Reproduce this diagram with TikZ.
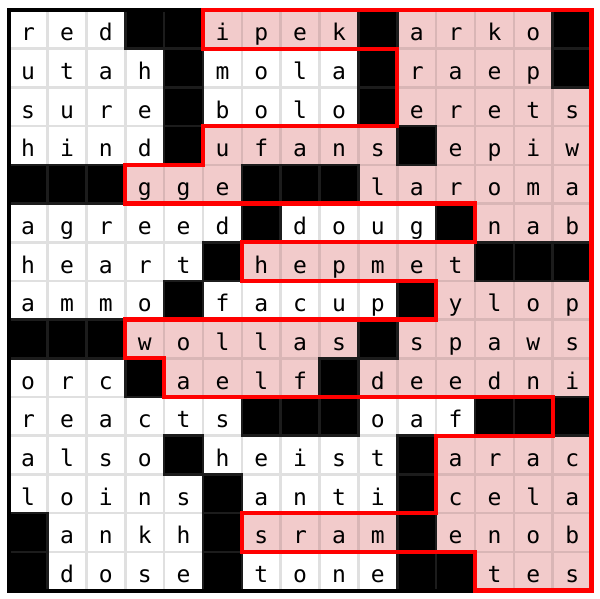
\documentclass[tikz,border=0pt]{standalone}
\usepackage{fontspec}
\newfontfamily\gridfont{DejaVu Sans Mono}
\definecolor{pinkc}{HTML}{F2CBCB}
\definecolor{pinkline}{HTML}{D9B6B6}
\definecolor{greyline}{HTML}{E0E0E0}
\definecolor{blackline}{HTML}{1C1C1C}
\definecolor{redline}{HTML}{FF0000}
\tikzset{
  whitecell/.style={fill=white,draw=greyline,line width=2.6pt},
  pinkcell/.style={fill=pinkc,draw=pinkline,line width=2.6pt},
  blackcell/.style={fill=black,draw=blackline,line width=2.6pt},
  letter/.style={inner sep=0pt,anchor=base,yshift=-11.5pt,text=black,
    font=\gridfont\fontsize{23}{27}\selectfont},
  frameline/.style={draw=black,line width=4pt},
  regionline/.style={draw=redline,line width=4.3pt,line join=miter}
}
\begin{document}
\begin{tikzpicture}[x=38.86pt,y=-38.7pt]
\useasboundingbox[fill=white] (-0.2239,-0.2584) rectangle (15.2161,15.1938);
\foreach \pass in {0,1,2}{
\foreach \r/\types in {
 0/{0,0,0,2,2,1,1,1,1,2,1,1,1,1,2},
 1/{0,0,0,0,2,0,0,0,0,2,1,1,1,1,2},
 2/{0,0,0,0,2,0,0,0,0,2,1,1,1,1,1},
 3/{0,0,0,0,2,1,1,1,1,1,2,1,1,1,1},
 4/{2,2,2,1,1,1,2,2,2,1,1,1,1,1,1},
 5/{0,0,0,0,0,0,2,0,0,0,0,2,1,1,1},
 6/{0,0,0,0,0,2,1,1,1,1,1,1,2,2,2},
 7/{0,0,0,0,2,0,0,0,0,0,2,1,1,1,1},
 8/{2,2,2,1,1,1,1,1,1,2,1,1,1,1,1},
 9/{0,0,0,2,1,1,1,1,2,1,1,1,1,1,1},
 10/{0,0,0,0,0,0,2,2,2,0,0,0,2,2,2},
 11/{0,0,0,0,2,0,0,0,0,0,2,1,1,1,1},
 12/{0,0,0,0,0,2,0,0,0,0,2,1,1,1,1},
 13/{2,0,0,0,0,2,1,1,1,1,2,1,1,1,1},
 14/{2,0,0,0,0,2,0,0,0,0,2,2,1,1,1}}{
  \foreach \t [count=\c from 0] in \types {
    \ifnum\t=\pass
      \ifcase\t
        \draw[whitecell] (\c,\r) rectangle ++(1,1);
      \or
        \draw[pinkcell] (\c,\r) rectangle ++(1,1);
      \or
        \draw[blackcell] (\c,\r) rectangle ++(1,1);
      \fi
    \fi
  }
}}
\foreach \r/\letters in {
 0/{r,e,d,.,.,i,p,e,k,.,a,r,k,o,.},
 1/{u,t,a,h,.,m,o,l,a,.,r,a,e,p,.},
 2/{s,u,r,e,.,b,o,l,o,.,e,r,e,t,s},
 3/{h,i,n,d,.,u,f,a,n,s,.,e,p,i,w},
 4/{.,.,.,g,g,e,.,.,.,l,a,r,o,m,a},
 5/{a,g,r,e,e,d,.,d,o,u,g,.,n,a,b},
 6/{h,e,a,r,t,.,h,e,p,m,e,t,.,.,.},
 7/{a,m,m,o,.,f,a,c,u,p,.,y,l,o,p},
 8/{.,.,.,w,o,l,l,a,s,.,s,p,a,w,s},
 9/{o,r,c,.,a,e,l,f,.,d,e,e,d,n,i},
 10/{r,e,a,c,t,s,.,.,.,o,a,f,.,.,.},
 11/{a,l,s,o,.,h,e,i,s,t,.,a,r,a,c},
 12/{l,o,i,n,s,.,a,n,t,i,.,c,e,l,a},
 13/{.,a,n,k,h,.,s,r,a,m,.,e,n,o,b},
 14/{.,d,o,s,e,.,t,o,n,e,.,.,t,e,s}}{
  \foreach \l [count=\c from 0] in \letters {
    \if.\l\else
      \node[letter] (L\r-\c) at (\c+0.5,\r+0.5) {\l};
    \fi
  }
}
\draw[frameline] (0,0) rectangle (15,15);
\draw[regionline] (5,0) -- (15,0) -- (15,15) -- (12,15) -- (12,14) -- (6,14)
  -- (6,13) -- (11,13) -- (11,11) -- (14,11) -- (14,10) -- (4,10) -- (4,9)
  -- (3,9) -- (3,8) -- (11,8) -- (11,7) -- (6,7) -- (6,6) -- (12,6) -- (12,5)
  -- (3,5) -- (3,4) -- (5,4) -- (5,3) -- (10,3) -- (10,1) -- (5,1) -- cycle;
\end{tikzpicture}
\end{document}
